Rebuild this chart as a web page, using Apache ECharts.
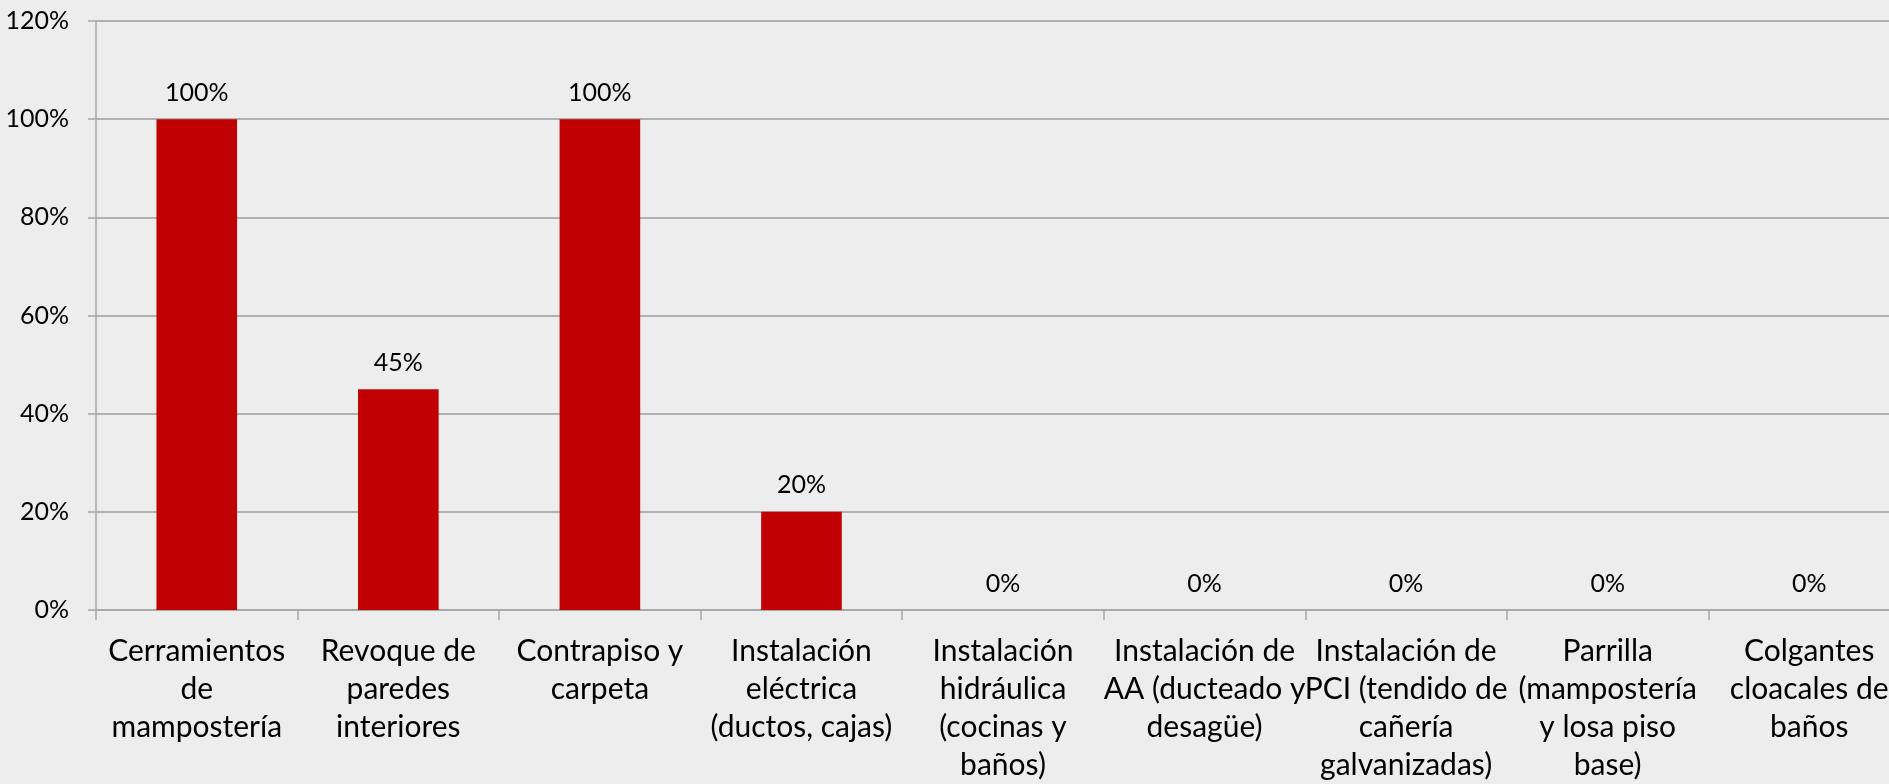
<!DOCTYPE html>
<html>
<head>
<meta charset="utf-8">
<script src="https://cdn.jsdelivr.net/npm/echarts@6/dist/echarts.min.js"></script>
<style>
  html, body { margin: 0; padding: 0; background: #EDEDED; }
  #chart { width: 1889px; height: 784px; }
</style>
</head>
<body>
<div id="chart"></div>
<script>
// categorías (con los saltos de línea del gráfico original)
const categories = [
  'Cerramientos\nde\nmampostería',
  'Revoque de\nparedes\ninteriores',
  'Contrapiso y\ncarpeta',
  'Instalación\neléctrica\n(ductos, cajas)',
  'Instalación\nhidráulica\n(cocinas y\nbaños)',
  'Instalación de\nAA (ducteado y\ndesagüe)',
  'Instalación de\nPCI (tendido de\ncañería\ngalvanizadas)',
  'Parrilla\n(mampostería\ny losa piso\nbase)',
  'Colgantes\ncloacales de\nbaños'
]

// avance en %
const avance = [100, 45, 100, 20, 0, 0, 0, 0, 0]

const yTicks = { min: 0, max: 120, interval: 20 }

const chart = echarts.init(document.getElementById('chart'))

const option = {
  backgroundColor: '#EDEDED',
  animation: false,
  textStyle: { fontFamily: 'Lato, sans-serif' },
  grid: {
    left: 96,
    top: 21,
    width: 1814, // el último bloque queda cortado a la derecha
    bottom: 174,
    outerBoundsMode: 'none'
  },
  xAxis: {
    type: 'category',
    data: categories,
    axisLine: { lineStyle: { color: '#A6A6A6', width: 1.5 } },
    axisTick: { show: true, length: 10, lineStyle: { color: '#A6A6A6', width: 1.5 } },
    axisLabel: {
      color: '#000',
      fontSize: 30,
      lineHeight: 38,
      margin: 22,
      interval: 0,
      align: 'center'
    }
  },
  yAxis: {
    type: 'value',
    min: yTicks.min,
    max: yTicks.max,
    interval: yTicks.interval,
    axisLine: { show: true, lineStyle: { color: '#A6A6A6', width: 1.5 } },
    axisTick: { show: true, length: 8, lineStyle: { color: '#A6A6A6', width: 1.5 } },
    axisLabel: {
      color: '#000',
      fontSize: 25,
      margin: 27,
      formatter: '{value}%'
    },
    splitLine: {
      show: true,
      lineStyle: { color: '#B0B0B0', width: 2 }
    }
  },
  series: [
    {
      type: 'bar',
      data: avance,
      barWidth: '40%',
      itemStyle: { color: '#C00000' },
      label: {
        show: true,
        position: 'top',
        distance: 14,
        color: '#000',
        fontSize: 25,
        formatter: '{c}%'
      }
    }
  ]
}

chart.setOption(option)
</script>
</body>
</html>
